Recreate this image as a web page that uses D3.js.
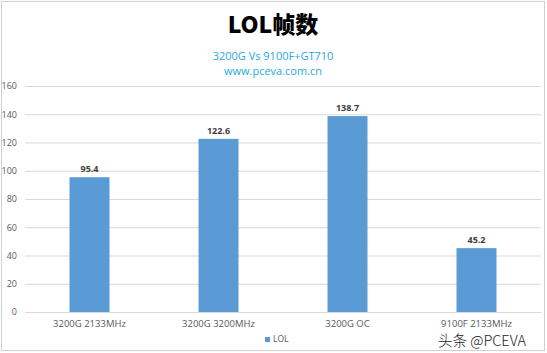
<!DOCTYPE html>
<html>
<head>
<meta charset="utf-8">
<script src="https://cdn.jsdelivr.net/npm/d3@7"></script>
<style>
  body { margin: 0; background: #fff; }
  text { font-family: "Open Sans", "Noto Sans CJK SC", sans-serif; }
</style>
</head>
<body>
<div id="chart"></div>
<script>
const categories = ["3200G 2133MHz", "3200G 3200MHz", "3200G OC", "9100F 2133MHz"];
const lolFps = [95.4, 122.6, 138.7, 45.2];
const yTicks = [0, 20, 40, 60, 80, 100, 120, 140, 160];
const seriesName = "LOL";

const W = 547, H = 353;
const margin = {top: 86, right: 6, bottom: 41, left: 25};
const width = W - margin.left - margin.right;
const height = H - margin.top - margin.bottom;

const svg = d3.select("#chart").append("svg")
  .attr("width", W)
  .attr("height", H);

// outer border
svg.append("rect")
  .attr("x", 1.5).attr("y", 1.5)
  .attr("width", W - 4).attr("height", H - 4)
  .attr("fill", "#fff")
  .attr("stroke", "#d0d0d0");

// titles
svg.append("text")
  .attr("x", 273).attr("y", 33)
  .attr("text-anchor", "middle")
  .style("font-family", "'Noto Sans CJK SC', sans-serif")
  .style("font-weight", "900")
  .style("font-size", "23px")
  .attr("fill", "#000")
  .text("LOL帧数");

svg.append("text")
  .attr("x", 273).attr("y", 60)
  .attr("text-anchor", "middle")
  .style("font-size", "11px")
  .attr("fill", "#29a8e0")
  .text("3200G Vs 9100F+GT710");

svg.append("text")
  .attr("x", 273).attr("y", 75)
  .attr("text-anchor", "middle")
  .style("font-size", "11px")
  .attr("fill", "#29a8e0")
  .text("www.pceva.com.cn");

const x = d3.scaleBand()
  .domain(categories)
  .range([0, width])
  .paddingInner(0.69)
  .paddingOuter(0.345);

const y = d3.scaleLinear()
  .domain([0, 160])
  .range([height, 0]);

const plot = svg.append("g")
  .attr("transform", "translate(" + margin.left + "," + margin.top + ")");

// gridlines + y labels
const yAxis = d3.axisLeft(y)
  .tickValues(yTicks)
  .tickSize(-width)
  .tickPadding(8);

plot.append("g")
  .attr("class", "axis-y")
  .call(yAxis)
  .call(g => g.select(".domain").remove())
  .call(g => g.selectAll("line").attr("stroke", "#d9d9d9"))
  .call(g => g.selectAll("text")
    .attr("fill", "#595959")
    .style("font-size", "9px"));

// x axis
const xAxis = d3.axisBottom(x).tickSize(0).tickPadding(8);
plot.append("g")
  .attr("transform", "translate(0," + height + ")")
  .call(xAxis)
  .call(g => g.select(".domain").attr("stroke", "#d9d9d9"))
  .call(g => g.selectAll("text")
    .attr("fill", "#595959")
    .style("font-size", "9.5px"));

// bars
plot.selectAll(".bar")
  .data(lolFps)
  .enter().append("rect")
  .attr("class", "bar")
  .attr("x", (d, i) => x(categories[i]))
  .attr("y", d => y(d))
  .attr("width", x.bandwidth())
  .attr("height", d => height - y(d))
  .attr("fill", "#5b9bd5");

// value labels
plot.selectAll(".label")
  .data(lolFps)
  .enter().append("text")
  .attr("class", "label")
  .attr("x", (d, i) => x(categories[i]) + x.bandwidth() / 2)
  .attr("y", d => y(d) - 5)
  .attr("text-anchor", "middle")
  .style("font-size", "9px")
  .style("font-weight", "bold")
  .attr("fill", "#404040")
  .text(d => d.toFixed(1));

// legend
const legend = svg.append("g").attr("transform", "translate(265,342)");
legend.append("rect")
  .attr("x", 0).attr("y", -5)
  .attr("width", 5).attr("height", 5)
  .attr("fill", "#5b9bd5");
legend.append("text")
  .attr("x", 8).attr("y", 0)
  .style("font-size", "8.5px")
  .attr("fill", "#595959")
  .text(seriesName);

// watermark
svg.append("text")
  .attr("x", 438).attr("y", 346)
  .style("font-family", "'Noto Sans CJK SC', sans-serif")
  .style("font-size", "14.5px")
  .style("font-weight", "300")
  .attr("fill", "#222")
  .attr("stroke", "#fff")
  .attr("stroke-width", 2)
  .attr("paint-order", "stroke")
  .text("头条 @PCEVA");
</script>
</body>
</html>
